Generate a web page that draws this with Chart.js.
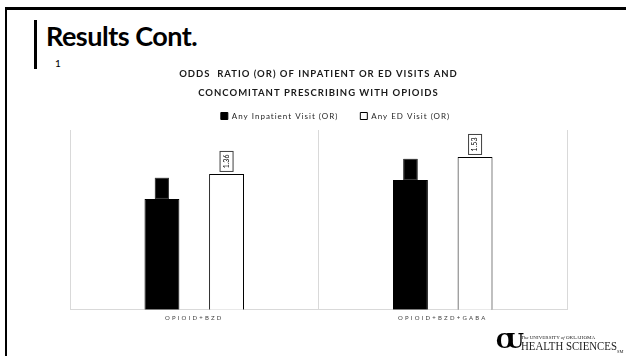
<!DOCTYPE html>
<html>
<head>
  <meta charset="UTF-8">
  <title>Results Cont.</title>
  <script src="https://cdn.jsdelivr.net/npm/chart.js"></script>
  <style>
    body {
      margin: 0;
      width: 626px;
      height: 356px;
      position: relative;
      overflow: hidden;
      background: #fff;
      font-family: Lato, sans-serif;
    }
    .frame-top { position: absolute; left: 5px; right: 0; top: 7px; height: 3px; background: #000; }
    .frame-left { position: absolute; left: 5px; top: 7px; bottom: 0; width: 2px; background: #000; }
    .title-bar { position: absolute; left: 34px; top: 20px; width: 3px; height: 49px; background: #000; }
    h1 {
      position: absolute;
      left: 46px;
      top: 19px;
      margin: 0;
      font-size: 27px;
      font-weight: bold;
      letter-spacing: -0.5px;
      color: #000;
    }
    .num { position: absolute; left: 55px; top: 57px; font-size: 10px; color: #000; }
    .chart-box { position: absolute; left: 0; top: 58px; width: 626px; height: 275px; }
    .logo { position: absolute; left: 496px; top: 332px; height: 22px; }
    .logo .ou {
      position: absolute; left: 0; top: -3px;
      font-family: "DejaVu Serif", serif; font-weight: bold; font-size: 20px;
      letter-spacing: -7px; color: #000;
    }
    .logo .small {
      position: absolute; left: 25px; top: 3px; white-space: nowrap;
      font-family: "Liberation Serif", serif; font-size: 5px; color: #222;
    }
    .logo .big {
      position: absolute; left: 25px; top: 7px; white-space: nowrap;
      font-family: "Liberation Serif", serif; font-size: 12px; color: #222;
      transform: scaleX(0.9); transform-origin: left;
    }
  </style>
</head>
<body>
  <div class="frame-top"></div>
  <div class="frame-left"></div>
  <div class="title-bar"></div>
  <h1>Results Cont.</h1>
  <div class="num">1</div>
  <div class="chart-box"><canvas id="orChart"></canvas></div>
  <div class="logo">
    <span class="ou">OU</span>
    <span class="small"><i>The</i> UNIVERSITY <i>of</i> OKLAHOMA</span>
    <span class="big">HEALTH SCIENCES<sub style="font-size:5px">SM</sub></span>
  </div>

  <script>
    const categories = ['OPIOID+BZD', 'OPIOID+BZD+GABA'];
    const inpatientOR = [1.11, 1.30];
    const edOR = [1.36, 1.53];
    const chartTitle = ['ODDS  RATIO (OR) OF INPATIENT OR ED VISITS AND', 'CONCOMITANT PRESCRIBING WITH OPIOIDS'];

    // boxed, rotated value labels sitting on top of each bar
    const barLabels = {
      id: 'barLabels',
      afterDatasetsDraw(chart) {
        const ctx = chart.ctx;
        chart.data.datasets.forEach((ds, i) => {
          const meta = chart.getDatasetMeta(i);
          meta.data.forEach((bar, j) => {
            const w = 14, h = 21;
            const gap = i === 0 ? 0 : 2;
            const x = bar.x - w / 2;
            const y = bar.y - gap - h;
            ctx.save();
            ctx.letterSpacing = '0px';
            ctx.fillStyle = ds.backgroundColor;
            ctx.fillRect(x, y, w, h);
            ctx.strokeStyle = '#404040';
            ctx.lineWidth = 1;
            ctx.strokeRect(x + 0.5, y + 0.5, w - 1, h - 1);
            ctx.translate(bar.x, y + h / 2);
            ctx.rotate(-Math.PI / 2);
            ctx.fillStyle = '#000';
            ctx.font = '7px Lato, sans-serif';
            ctx.textAlign = 'center';
            ctx.textBaseline = 'middle';
            ctx.fillText(ds.data[j].toFixed(2), 0, 0);
            ctx.restore();
          });
        });
      }
    };

    // spaced-out lettering like the original slide
    const spacing = {
      id: 'spacing',
      beforeUpdate(chart) { chart.ctx.letterSpacing = '1px'; },
      afterLayout(chart) {
        // legend sits a little right of centre in the original
        chart.legend.left += 17;
        chart.legend.right += 17;
      },
      beforeDraw(chart) {
        chart.ctx.letterSpacing = '1px';
        const x = chart.scales.x;
        if (!x._spaced) {
          const orig = x.drawLabels.bind(x);
          x.drawLabels = function (area) {
            chart.ctx.save();
            chart.ctx.letterSpacing = '2.2px';
            orig(area);
            chart.ctx.restore();
          };
          x._spaced = true;
        }
      }
    };

    const ctx = document.getElementById('orChart').getContext('2d');
    new Chart(ctx, {
      type: 'bar',
      data: {
        labels: categories,
        datasets: [{
          label: 'Any Inpatient Visit (OR)',
          data: inpatientOR,
          backgroundColor: '#000000',
          borderColor: '#000000',
          borderWidth: 1
        }, {
          label: 'Any ED Visit (OR)',
          data: edOR,
          backgroundColor: '#ffffff',
          borderColor: '#000000',
          borderWidth: 1
        }]
      },
      options: {
        responsive: true,
        maintainAspectRatio: false,
        animation: false,
        categoryPercentage: 0.52,
        barPercentage: 0.54,
        layout: { padding: { left: 70, right: 59, top: 4, bottom: 6 } },
        plugins: {
          title: {
            display: true,
            text: chartTitle,
            color: '#1a1a1a',
            font: { family: 'Lato', size: 9.5, weight: 'bold', lineHeight: 2 },
            padding: { top: 2, bottom: -12 }
          },
          legend: {
            position: 'top',
            labels: {
              color: '#262626',
              font: { family: 'Lato', size: 8 },
              boxWidth: 7,
              boxHeight: 7,
              padding: 22
            }
          },
          tooltip: { enabled: false }
        },
        scales: {
          x: {
            grid: { display: true, offset: true, color: '#d9d9d9', drawTicks: false },
            border: { color: '#d9d9d9' },
            ticks: { color: '#404040', font: { family: 'Lato', size: 6 }, padding: 5 }
          },
          y: {
            display: false,
            min: 0,
            max: 1.8
          }
        }
      },
      plugins: [spacing, barLabels]
    });
  </script>
</body>
</html>
